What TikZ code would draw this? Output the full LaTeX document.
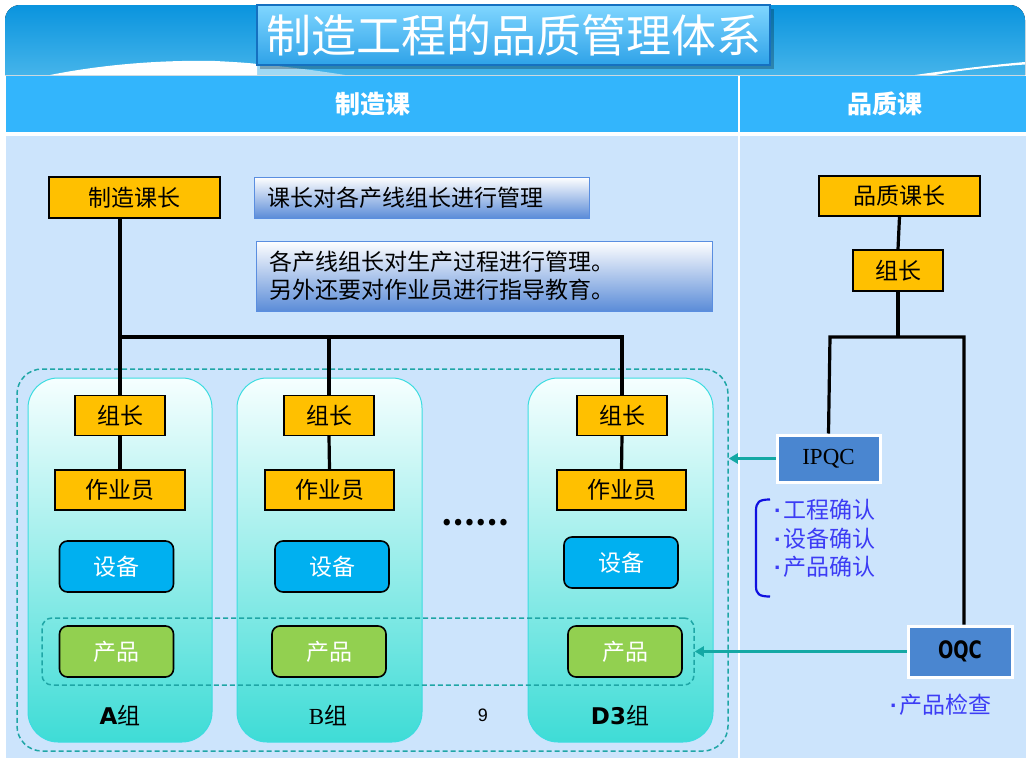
\documentclass[tikz,border=0pt]{standalone}
\usepackage{fontspec}
\setmainfont{Noto Sans CJK SC}
\newfontfamily\serifl{Liberation Serif}
\newfontfamily\heavyfont{DejaVu Sans}
\newfontfamily\arialf{Liberation Sans}
\usetikzlibrary{arrows.meta}
\definecolor{cyel}{HTML}{FFC000}
\definecolor{csb}{HTML}{00B0F0}
\definecolor{cgr}{HTML}{92D050}
\definecolor{cbody}{HTML}{CCE4FC}
\definecolor{chdr}{HTML}{33B5FC}
\definecolor{cbant}{HTML}{0A94DE}
\definecolor{cbanb}{HTML}{45B4EA}
\definecolor{ctitt}{HTML}{80D6FF}
\definecolor{ctitb}{HTML}{2EA2E8}
\definecolor{ctitd}{HTML}{1570C0}
\definecolor{cpant}{HTML}{F6FFFF}
\definecolor{cpanbot}{HTML}{3EDCD6}
\definecolor{cpand}{HTML}{3CDCE0}
\definecolor{cdash}{HTML}{1FA6A6}
\definecolor{ctea}{HTML}{14A8A4}
\definecolor{csteel}{HTML}{4A86D0}
\definecolor{cgbd}{HTML}{5A8EE0}
\definecolor{cgbot}{HTML}{5B8CD8}
\definecolor{clist}{HTML}{3C3CF5}
\definecolor{cbrk}{HTML}{1010E0}
\newcommand{\bdot}{{\arialf\bfseries ·}\kern2pt}
\tikzset{
  ybox/.style={draw=black, line width=1.2pt, fill=cyel, inner sep=0pt,
    font=\fontsize{23pt}{27pt}\selectfont},
  sbbox/.style={draw=black, line width=1.6pt, fill=csb, rounded corners=8pt, inner sep=0pt,
    text=white, font=\fontsize{23pt}{27pt}\selectfont, minimum width=114pt, minimum height=51pt},
  cpbox/.style={draw=black, line width=1.6pt, fill=cgr, rounded corners=8pt, inner sep=0pt,
    text=white, font=\fontsize{23pt}{27pt}\selectfont, minimum width=114pt, minimum height=51pt},
  panel/.style={draw=cpand, line width=1pt, top color=cpant, bottom color=cpanbot, rounded corners=30pt},
  dashbox/.style={draw=cdash, line width=1.5pt, dash pattern=on 5pt off 3pt, inner sep=0pt},
  conn/.style={draw=black, line width=3.2pt},
  tarrow/.style={draw=ctea, line width=3pt, -{Triangle[width=10pt,length=9pt]}},
  qbox/.style={fill=csteel, draw=white, line width=3pt, inner sep=0pt},
  gbox/.style={draw=cgbd, line width=1pt, top color=white, bottom color=cgbot, inner xsep=13pt,
    inner ysep=0pt, align=left, font=\fontsize{23pt}{28pt}\selectfont},
  lbl/.style={font=\fontsize{23pt}{27pt}\selectfont},
  lst/.style={text=clist, anchor=west, inner sep=0pt, font=\fontsize{23pt}{27pt}\selectfont},
  hdrtxt/.style={text=white, font=\fontsize{25pt}{30pt}\selectfont\bfseries}
}
\begin{document}
\begin{tikzpicture}[x=1pt,y=-1pt]
\useasboundingbox (0,0) rectangle (1031,763);
\fill[white] (0,0) rectangle (1031,763);
% banner
\fill[top color=cbant, bottom color=cbanb] (5,75) -- (5,20) arc[start angle=180, end angle=270, radius=15]
  -- (1010,5) arc[start angle=270, end angle=360, radius=15] -- (1025,75) -- cycle;
\fill[white] (50,75) .. controls (110,63) and (170,60) .. (215,61) .. controls (235,62) and (250,63) .. (257,64) -- (257,75) -- cycle;
\fill[white, opacity=0.5] (257,64) .. controls (290,67) and (320,71) .. (345,75) -- (257,75) -- cycle;
\fill[white] (915,75) .. controls (950,70) and (990,65) .. (1025,62) -- (1025,64.5) .. controls (990,67) and (955,71) .. (935,75) -- cycle;
% title
\fill[black, opacity=0.25] (260,9) rectangle (774,69);
\node[draw=ctitd, line width=1.5pt, top color=ctitt, bottom color=ctitb, minimum width=513pt,
  minimum height=60pt, inner sep=0pt, text=white, font=\fontsize{45pt}{50pt}\selectfont]
  (title) at (513.5,35) {制造工程的品质管理体系};
% header
\fill[chdr] (6,76) rectangle (1026,132);
\node[hdrtxt] (h1) at (373,104) {制造课};
\node[hdrtxt] (h2) at (885,104) {品质课};
% body
\fill[cbody] (6,136) rectangle (1026,758);
\draw[white, line width=1.5pt] (739,76) -- (739,758);
% outer dashed
\node[dashbox, rounded corners=25pt, minimum width=711pt, minimum height=382pt] (outer) at (372.5,560) {};
% panels
\draw[panel] (28,378) rectangle (212,742);
\draw[panel] (237,378) rectangle (422,742);
\draw[panel] (528,378) rectangle (713,742);
% inner dashed
\node[dashbox, rounded corners=10pt, minimum width=652pt, minimum height=67pt] (inner) at (368,651.5) {};
% left nodes
\node[ybox, minimum width=171pt, minimum height=41pt] (zk) at (134.5,197.5) {制造课长};
\node[gbox, anchor=west, text width=309pt, minimum height=41pt] (t1) at (254,197.5) {课长对各产线组长进行管理};
\node[gbox, anchor=west, text width=430pt, minimum height=70pt] (t2) at (256,276) {各产线组长对生产过程进行管理。\\另外还要对作业员进行指导教育。};
\node[ybox, minimum width=90pt, minimum height=40pt] (gzA) at (120,415.5) {组长};
\node[ybox, minimum width=90pt, minimum height=40pt] (gzB) at (329,415.5) {组长};
\node[ybox, minimum width=90pt, minimum height=40pt] (gzD) at (622,415.5) {组长};
\node[ybox, minimum width=130pt, minimum height=40pt] (zyA) at (120,490) {作业员};
\node[ybox, minimum width=129pt, minimum height=40pt] (zyB) at (329.5,490) {作业员};
\node[ybox, minimum width=129pt, minimum height=40pt] (zyD) at (621.5,490) {作业员};
\node[sbbox] (sbA) at (116.5,566.5) {设备};
\node[sbbox] (sbB) at (332,566.5) {设备};
\node[sbbox] (sbD) at (621,562.5) {设备};
\node[cpbox] (cpA) at (116.5,651.5) {产品};
\node[cpbox] (cpB) at (329,651.5) {产品};
\node[cpbox] (cpD) at (625,651.5) {产品};
\node[lbl] (lA) at (120,715) {{\heavyfont\bfseries A}组};
\node[lbl] (lB) at (328,715) {{\serifl B}组};
\node[font=\fontsize{18pt}{20pt}\arialf] (l9) at (483,715) {9};
\node[lbl] (lD) at (620,715) {{\heavyfont\bfseries D3}组};
\node[font=\fontsize{30pt}{32pt}\selectfont\bfseries] (dots) at (475,523) {……};
% left connectors
\coordinate (bus) at (0,337);
\draw[conn] (gzA.north |- zk.south) -- (gzA.north);
\draw[conn] (gzA.north |- bus) -| (gzD.north);
\draw[conn] (gzB.north |- bus) -- (gzB.north);
\draw[conn] (gzA.south) -- (zyA.north);
\draw[conn] (gzB.south) -- (zyB.north);
\draw[conn] (gzD.south) -- (zyD.north);
% right nodes
\node[ybox, minimum width=161pt, minimum height=40pt] (pzk) at (899.5,196) {品质课长};
\node[ybox, minimum width=90pt, minimum height=41pt] (gzR) at (898,270.5) {组长};
\node[qbox, minimum width=103pt, minimum height=47pt, font=\fontsize{23pt}{26pt}\serifl] (ipqc) at (828.5,458.5) {IPQC};
\node[qbox, minimum width=104pt, minimum height=51pt] (oqc) at (960,651.5) {\scalebox{0.75}[1]{\fontsize{24pt}{26pt}\heavyfont\bfseries OQC}};
\node[lst] (li1) at (774,510) {\bdot 工程确认};
\node[lst] (li2) at (774,538.5) {\bdot 设备确认};
\node[lst] (li3) at (774,567) {\bdot 产品确认};
\node[lst] (li4) at (890,705) {\bdot 产品检查};
% right connectors
\coordinate (qL) at (830,337);
\coordinate (qR) at (964,337);
\draw[conn] (pzk.south) -- (gzR.north);
\draw[conn] (gzR.south) -- (gzR.south |- qL);
\draw[conn] (ipqc.north) -- (qL) -- (qR) -- (qR |- oqc.north);
% arrows
\draw[tarrow] (ipqc.west) -- (ipqc.west -| outer.east);
\draw[tarrow] (oqc.west) -- (oqc.west -| inner.east);
% bracket
\draw[cbrk, line width=2.2pt] (770,499.5) .. controls (759,499.5) and (756,502) .. (756,511) -- (756,586) .. controls (756,594) and (759,596.5) .. (770,596.5);
\end{tikzpicture}
\end{document}
